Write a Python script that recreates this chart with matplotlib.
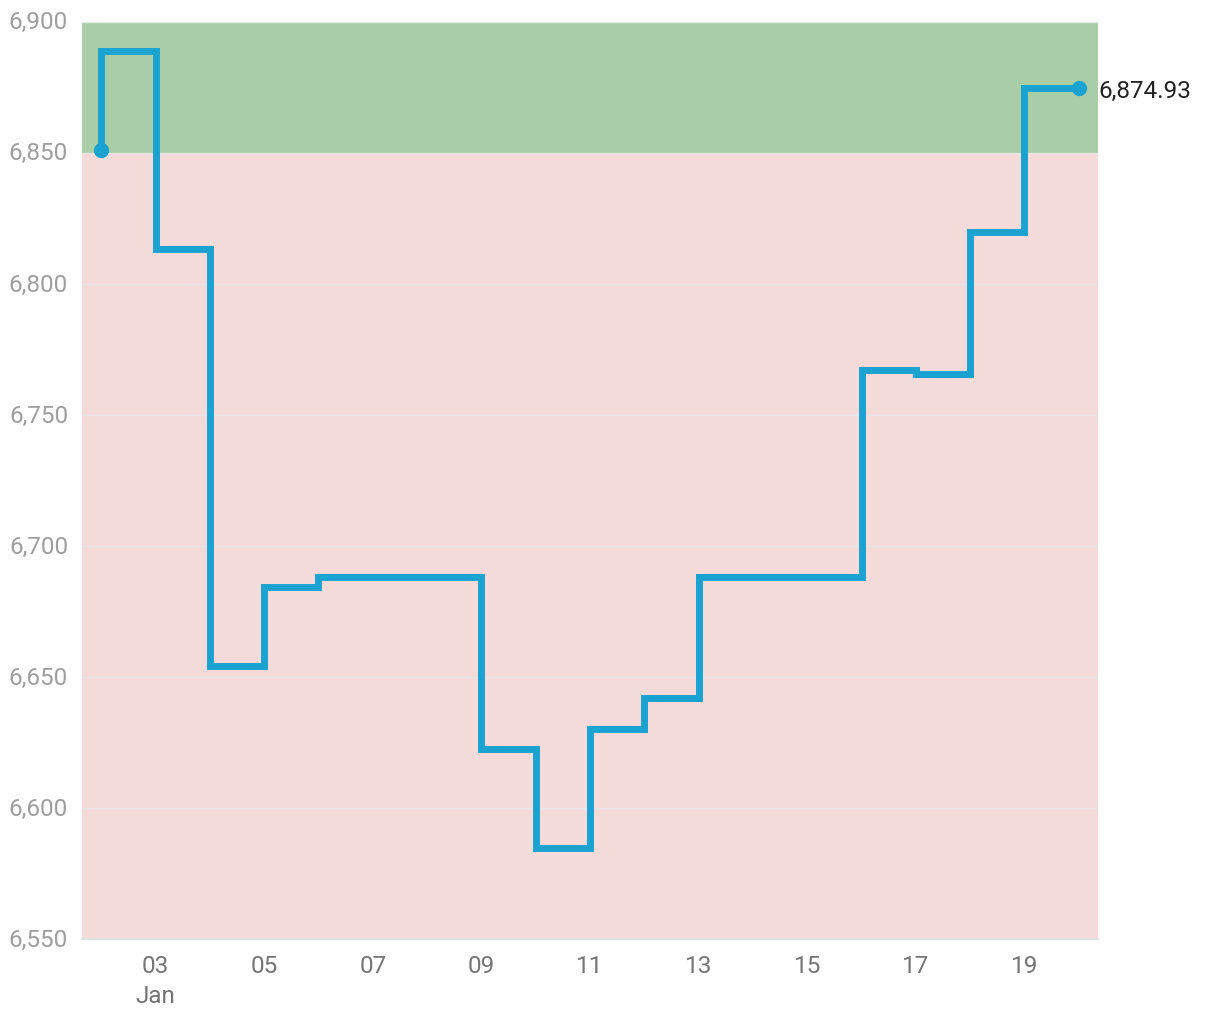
import matplotlib
matplotlib.use("Agg")
import matplotlib.pyplot as plt
import numpy as np
import pandas as pd

plt.rcParams['font.family'] = ['Roboto', 'DejaVu Sans']

# daily values, Jan 2 .. Jan 20
dates = pd.date_range("2024-01-02", "2024-01-20", freq="D")
values = [6851.1, 6888.9, 6813.4, 6654.2, 6684.4, 6688.2, 6688.2, 6688.2,
          6622.5, 6584.7, 6630.2, 6642.0, 6688.2, 6688.2, 6688.2, 6767.2,
          6765.6, 6819.8, 6874.93]
threshold = 6850
y_ticks = [6550, 6600, 6650, 6700, 6750, 6800, 6850, 6900]

fig = plt.figure(figsize=(12.2, 10.2), dpi=100)
ax = fig.add_axes([0.0672, 0.0784, 0.8328, 0.8991])

ymin, ymax = 6550, 6900
ax.axhspan(threshold, ymax, color="#a8cda7", zorder=0, lw=0)
ax.axhspan(ymin, threshold, color="#f5dada", zorder=0, lw=0)

for t in y_ticks:
    ax.axhline(t, color="#e6e6e6", lw=1, zorder=1)

ax.step(dates, values, where="pre", color="#1aa3d1", lw=5, zorder=3,
        solid_joinstyle="miter")
ax.plot([dates[0], dates[-1]], [values[0], values[-1]], "o", color="#1aa3d1",
        ms=10, zorder=4)
ax.annotate(f"{values[-1]:,.2f}", (dates[-1], values[-1]), xytext=(14, -2),
            textcoords="offset points", va="center", ha="left", fontsize=17.5,
            color="#222222", annotation_clip=False)

ax.set_ylim(ymin, ymax)
ax.set_xlim(dates[0] - pd.Timedelta(hours=8.5), dates[-1] + pd.Timedelta(hours=8.5))
ax.set_yticks(y_ticks)
ax.set_yticklabels([f"{t:,}" for t in y_ticks])

xt = dates[1::2]
ax.set_xticks(xt)
ax.set_xticklabels([d.strftime("%d") + ("\nJan" if i == 0 else "") for i, d in enumerate(xt)])

for s in ["top", "right", "left"]:
    ax.spines[s].set_visible(False)
ax.spines["bottom"].set_color("#dde3e3")
ax.spines["bottom"].set_linewidth(1.5)
ax.tick_params(axis="y", length=0, pad=10, labelsize=17.5, labelcolor="#9e9e9e")
ax.tick_params(axis="x", length=0, pad=11, labelsize=17.5, labelcolor="#757575")
for lbl in ax.get_xticklabels():
    lbl.set_linespacing(1.35)
for lbl in ax.get_yticklabels():
    lbl.set_va("center")

fig.savefig("out.png", dpi=100)
